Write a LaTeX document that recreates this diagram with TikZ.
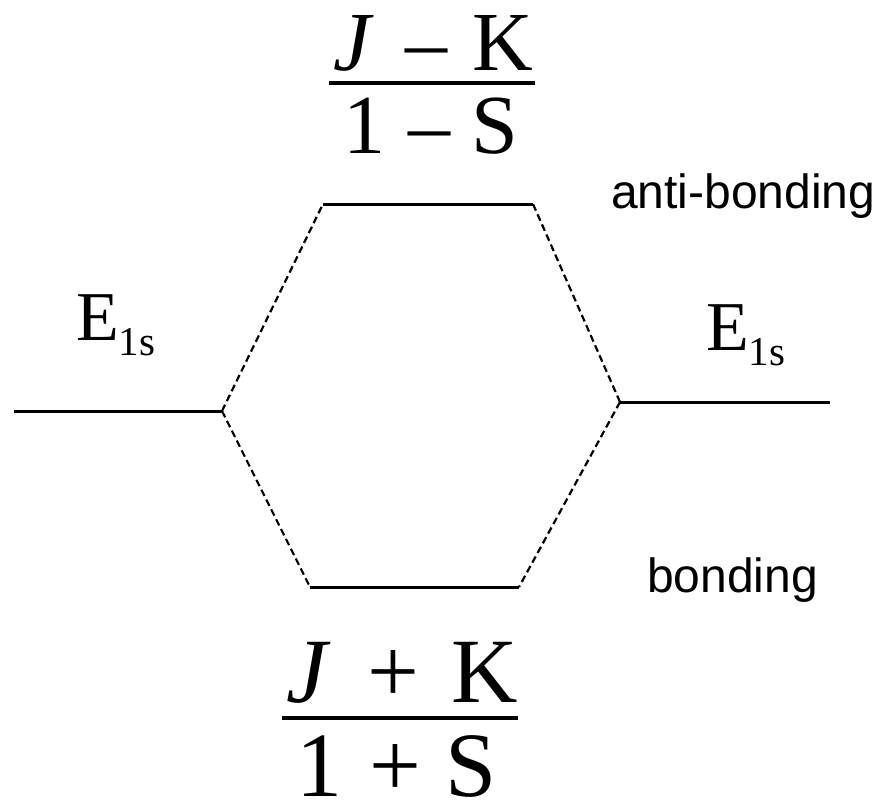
\documentclass[tikz,border=0pt]{standalone}
\usepackage{fontspec}
\setmainfont{Liberation Serif}
\newfontfamily\arial{Liberation Sans}
\usepackage{tikz}
\usetikzlibrary{positioning}

\begin{document}
\begin{tikzpicture}[
  x=1pt, y=-1pt,
  orb/.style={line width=3pt},
  conn/.style={dashed, dash pattern=on 7pt off 4pt, line width=2.2pt},
  fracbar/.style={line width=3.5pt},
  elbl/.style={inner sep=0pt, anchor=base west, font=\fontsize{70}{70}\selectfont},
  txt/.style={inner sep=0pt, anchor=base west, font=\arial\fontsize{48}{48}\selectfont},
  numtop/.style={inner sep=0pt, anchor=base west, font=\fontsize{84}{84}\selectfont},
  numbot/.style={inner sep=0pt, anchor=base west, font=\fontsize{92}{92}\selectfont}
]
\useasboundingbox (0,0) rectangle (879,801);

%% --- Niveles atomicos ---
\coordinate (A1) at (14,411);
\coordinate (A2) at (222,411);
\coordinate (B1) at (620,402);
\coordinate (B2) at (830,402);

%% --- Niveles moleculares ---
\coordinate (AB1) at (323,204);
\coordinate (AB2) at (533,204);
\coordinate (BO1) at (310,587);
\coordinate (BO2) at (519,587);

\draw[orb] (A1) -- (A2);
\draw[orb] (B1) -- (B2);
\draw[orb] (AB1) -- (AB2);
\draw[orb] (BO1) -- (BO2);

%% --- Correlaciones ---
\draw[conn] (A2) -- (AB1);
\draw[conn] (A2) -- (BO1);
\draw[conn] (B1) -- (AB2);
\draw[conn] (B1) -- (BO2);

%% --- Etiquetas ---
\node[elbl] (eleft)  at (76,340)  {E\raisebox{-15pt}{\fontsize{41}{41}\selectfont 1s}};
\node[elbl] (eright) at (706,350) {E\raisebox{-15pt}{\fontsize{41}{41}\selectfont 1s}};
\node[txt] (anti) at (611,208) {anti-bonding};
\node[txt] (bond) at (647,592) {bonding};

%% --- Energia antienlazante ---
\node[numtop] (antinum) at (333,70)  {\textit{J}\hspace{0.38em}–\hspace{0.3em}K};
\node[numtop] (antiden) at (343,153) {1\hspace{0.28em}–\hspace{0.25em}S};
\coordinate (antibar1) at (329,83);
\coordinate (antibar2) at (535,83);
\draw[fracbar] (antibar1) -- (antibar2);

%% --- Energia enlazante ---
\node[numbot] (bondnum) at (286,702) {\textit{J}\hspace{0.4em}+\hspace{0.35em}K};
\node[numbot] (bondden) at (296,796) {1\hspace{0.3em}+\hspace{0.26em}S};
\coordinate (bondbar1) at (282,718);
\coordinate (bondbar2) at (518,718);
\draw[fracbar] (bondbar1) -- (bondbar2);

\end{tikzpicture}
\end{document}
